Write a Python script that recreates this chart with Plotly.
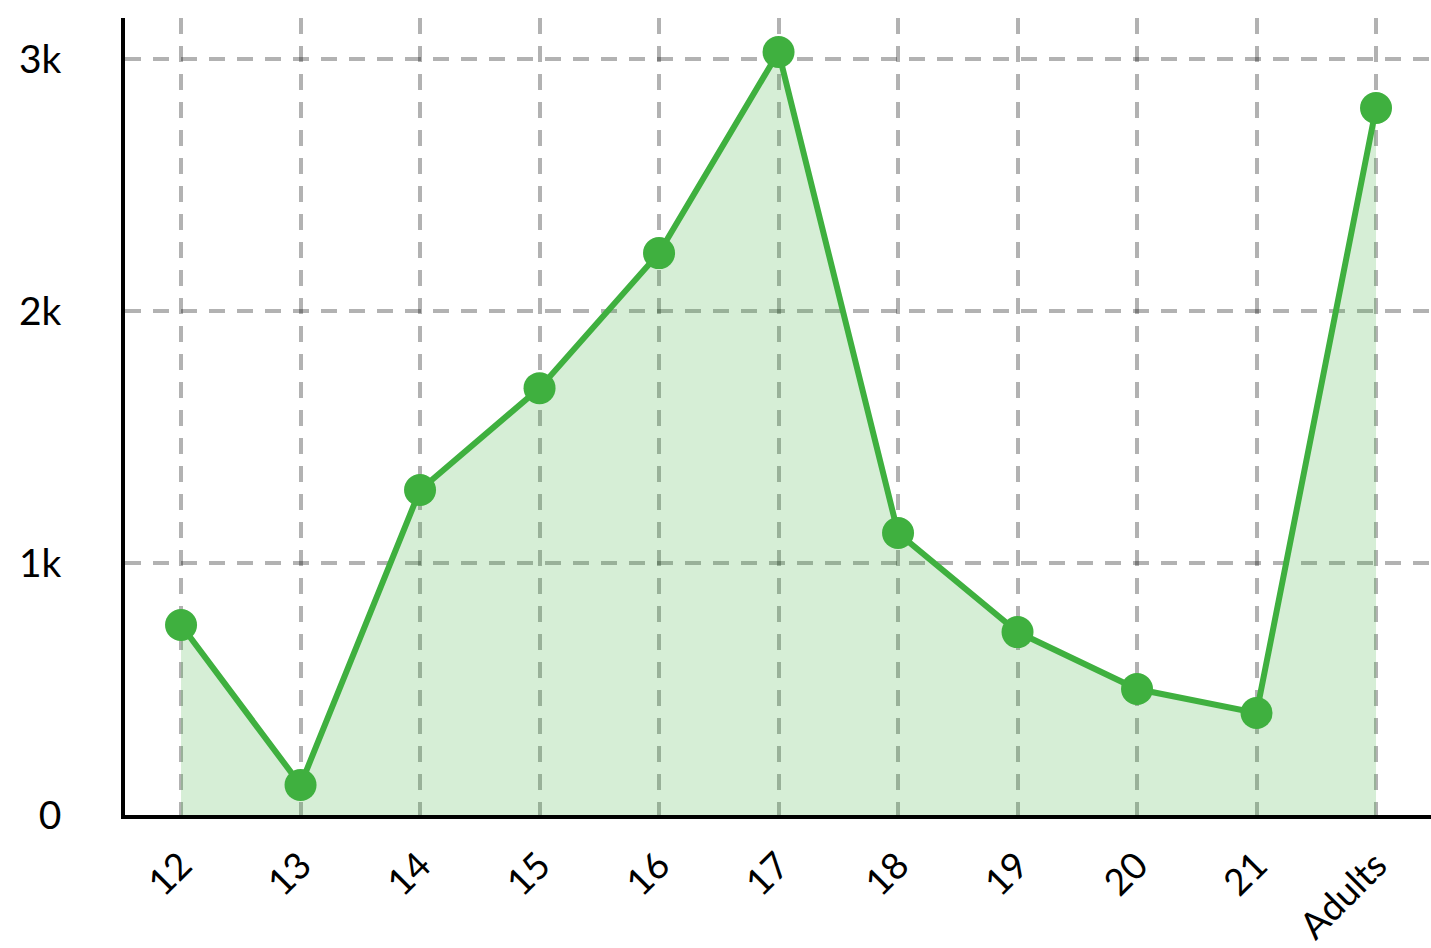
import plotly.graph_objects as go

categories = ["12", "13", "14", "15", "16", "17", "18", "19", "20", "21", "Adults"]
values = [754, 119, 1290, 1694, 2230, 3028, 1119, 726, 500, 405, 2806]
y_tickvals = [0, 1000, 2000, 3000]
y_ticktext = ["0", "1k", "2k", "3k"]

green = "rgb(63,176,63)"

fig = go.Figure()
fig.add_trace(go.Scatter(
    x=categories, y=values, mode="lines+markers",
    line=dict(color=green, width=6),
    marker=dict(color=green, size=32),
    fill="tozeroy", fillcolor="rgba(63,176,63,0.21)",
    hoverinfo="skip",
))

grid = dict(showgrid=True, gridcolor="rgba(0,0,0,0.3)", gridwidth=3.5, griddash="16px,12px")

fig.update_layout(
    width=1431, height=948,
    margin=dict(l=125, r=0, t=18, b=133, autoexpand=False),
    paper_bgcolor="white", plot_bgcolor="white",
    showlegend=False,
    font=dict(family="Lato", size=39, color="black"),
    xaxis=dict(
        type="category", range=[-0.469, 10.46],
        tickangle=-45, ticks="", ticklabelstandoff=10, automargin=False,
        tickfont=dict(size=37),
        showline=True, linecolor="black", linewidth=3.5,
        zeroline=False, **grid,
    ),
    yaxis=dict(
        range=[0, 3163], tickvals=y_tickvals, ticktext=y_ticktext,
        ticks="", ticklabelstandoff=52, automargin=False,
        showline=True, linecolor="black", linewidth=3.5,
        zeroline=False, **grid,
    ),
)

fig.write_html(
    "out.html",
    config={"displayModeBar": False},
    post_script="document.body.style.margin='0';document.body.style.overflow='hidden';",
)
